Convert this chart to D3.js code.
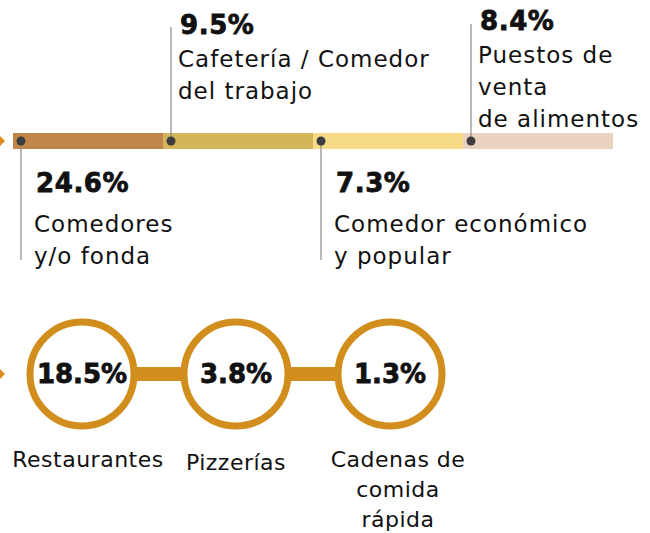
<!DOCTYPE html>
<html>
<head>
<meta charset="utf-8">
<script src="https://cdn.jsdelivr.net/npm/d3@7"></script>
<style>
  body { margin: 0; background: #fff; }
  text { font-family: "DejaVu Sans", sans-serif; fill: #111; }
  text.pct { stroke: #111; stroke-width: 0.8; }
</style>
</head>
<body>
<div id="chart"></div>
<script>
// DATA
const barCategories = [
  ["Comedores", "y/o fonda"],
  ["Cafetería / Comedor", "del trabajo"],
  ["Comedor económico", "y popular"],
  ["Puestos de", "venta", "de alimentos"]
];
const barValues = [24.6, 9.5, 7.3, 8.4];
const barColors = ["#c1864a", "#d4b55a", "#f6da86", "#e9d3be"];

const circleCategories = [
  ["Restaurantes"],
  ["Pizzerías"],
  ["Cadenas de", "comida", "rápida"]
];
const circleValues = [18.5, 3.8, 1.3];

// CONSTANTS
const WIDTH = 650;
const HEIGHT = 533;
const BAR_Y = 133;
const BAR_H = 16;
const CIRCLE_Y = 374;
const GOLD = "#d18e1c";

const fmt = d => d.toFixed(1) + "%";

const svg = d3.select("#chart")
  .append("svg")
  .attr("width", WIDTH)
  .attr("height", HEIGHT);

// left arrow markers
[BAR_Y + BAR_H / 2, CIRCLE_Y].forEach(y => {
  svg.append("path")
    .attr("d", `M0,${y - 5} L5,${y} L0,${y + 5} Z`)
    .attr("fill", "#e08a1e");
});

// TOP BAR
const xBar = d3.scaleBand()
  .domain(d3.range(barValues.length))
  .range([13, 613])
  .padding(0);

const barG = svg.append("g");

barG.selectAll("rect")
  .data(barValues)
  .enter()
  .append("rect")
  .attr("x", (d, i) => xBar(i))
  .attr("y", BAR_Y)
  .attr("width", xBar.bandwidth())
  .attr("height", BAR_H)
  .attr("fill", (d, i) => barColors[i]);

const dotX = i => xBar(i) + 8;
const cy = BAR_Y + BAR_H / 2;

// leader lines (below for even, above for odd)
barG.selectAll("line")
  .data(barValues)
  .enter()
  .append("line")
  .attr("x1", (d, i) => dotX(i))
  .attr("x2", (d, i) => dotX(i))
  .attr("y1", cy)
  .attr("y2", (d, i) => i % 2 === 0 ? 260 : (barCategories[i].length > 2 ? 24 : 27))
  .attr("stroke", "#8a8a8a")
  .attr("stroke-width", 1.2);

barG.selectAll("circle")
  .data(barValues)
  .enter()
  .append("circle")
  .attr("cx", (d, i) => dotX(i))
  .attr("cy", cy)
  .attr("r", 4.5)
  .attr("fill", "#3d3d3f");

const labelG = barG.selectAll("g.lbl")
  .data(barValues)
  .enter()
  .append("g")
  .attr("class", "lbl")
  .attr("transform", (d, i) => {
    const below = i % 2 === 0;
    const tx = dotX(i) + (below ? 13 : 7);
    const ty = below ? 192 : (barCategories[i].length > 2 ? 30 : 34);
    return `translate(${tx},${ty})`;
  });

labelG.append("text")
  .attr("class", "pct")
  .attr("x", 2)
  .attr("font-size", 26)
  .attr("font-weight", 700)
  .attr("letter-spacing", 0.6)
  .text(d => fmt(d));

labelG.each(function (d, i) {
  const below = i % 2 === 0;
  d3.select(this).selectAll("text.cat")
    .data(barCategories[i])
    .enter()
    .append("text")
    .attr("class", "cat")
    .attr("y", (t, j) => (below ? 40 : 33) + j * 32)
    .attr("font-size", 23)
    .attr("letter-spacing", 1)
    .text(t => t);
});

// CIRCLES
const xCircle = d3.scalePoint()
  .domain(d3.range(circleValues.length))
  .range([82, 390]);

const circG = svg.append("g");

circG.append("rect")
  .attr("x", xCircle(0))
  .attr("y", CIRCLE_Y - 7)
  .attr("width", xCircle(circleValues.length - 1) - xCircle(0))
  .attr("height", 14)
  .attr("fill", GOLD);

circG.selectAll("circle")
  .data(circleValues)
  .enter()
  .append("circle")
  .attr("cx", (d, i) => xCircle(i))
  .attr("cy", CIRCLE_Y)
  .attr("r", 52)
  .attr("fill", "#fff")
  .attr("stroke", GOLD)
  .attr("stroke-width", 7);

circG.selectAll("text.val")
  .data(circleValues)
  .enter()
  .append("text")
  .attr("class", "val pct")
  .attr("x", (d, i) => xCircle(i))
  .attr("y", CIRCLE_Y + 9)
  .attr("text-anchor", "middle")
  .attr("font-size", 26)
  .attr("font-weight", 700)
  .text(d => fmt(d));

circleCategories.forEach((lines, i) => {
  circG.append("g")
    .selectAll("text")
    .data(lines)
    .enter()
    .append("text")
    .attr("x", xCircle(i) + (i === 0 ? 6 : i === 2 ? 8 : 0))
    .attr("y", (t, j) => (i === 1 ? 470 : 467) + j * 30)
    .attr("text-anchor", "middle")
    .attr("font-size", 22)
    .attr("letter-spacing", 0.5)
    .text(t => t);
});
</script>
</body>
</html>
